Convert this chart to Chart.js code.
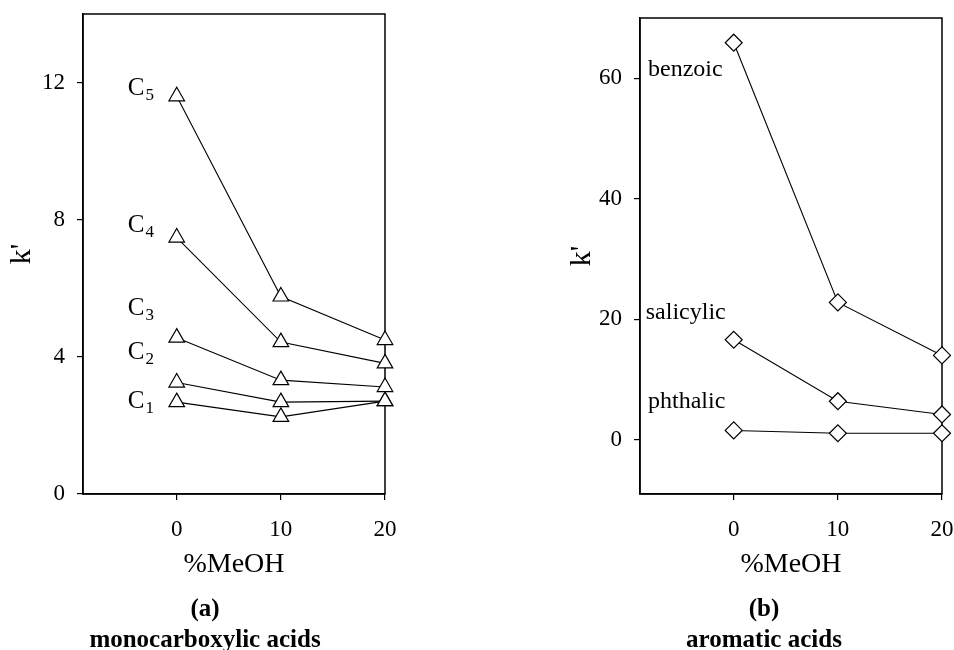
<!DOCTYPE html>
<html>
<head>
<meta charset="utf-8">
<script src="https://cdn.jsdelivr.net/npm/chart.js@4"></script>
<style>
body { margin: 0; background: #fff; }
#wrap { position: relative; width: 954px; height: 650px; overflow: hidden; }
#chartA { position: absolute; left: 0; top: 0; }
#chartB { position: absolute; left: 477px; top: 0; }
.cap { position: absolute; width: 300px; text-align: center; font-family: 'Liberation Serif', serif;
       font-weight: bold; font-size: 25px; line-height: 30px; color: #000; }
</style>
</head>
<body>
<div id="wrap">
  <canvas id="chartA" width="477" height="650"></canvas>
  <canvas id="chartB" width="477" height="650"></canvas>
  <div class="cap" style="left:55px;top:593px">(a)</div>
  <div class="cap" style="left:55px;top:624px">monocarboxylic acids</div>
  <div class="cap" style="left:614px;top:593px">(b)</div>
  <div class="cap" style="left:614px;top:624px">aromatic acids</div>
</div>
<script>
// %MeOH in mobile phase
const meoh = [0, 10, 20];
const xTicks = [0, 10, 20];

// (a) monocarboxylic acids
const acidNames = ['C1', 'C2', 'C3', 'C4', 'C5'];
const c1 = [2.68, 2.25, 2.71];
const c2 = [3.25, 2.68, 2.71];
const c3 = [4.56, 3.32, 3.12];
const c4 = [7.48, 4.43, 3.81];
const c5 = [11.6, 5.76, 4.49];
const yTicksA = [0, 4, 8, 12];

// (b) aromatic acids
const aromNames = ['benzoic', 'salicylic', 'phthalic'];
const benzoic = [65.9, 22.8, 14.0];
const salicylic = [16.6, 6.4, 4.2];
const phthalic = [1.55, 1.08, 1.08];
const yTicksB = [0, 20, 40, 60];

const serif = "'Liberation Serif', 'Times New Roman', serif";

function pts(vals) {
  return meoh.map((x, i) => ({ x: x, y: vals[i] }));
}

function ds(vals, style, r) {
  return {
    data: pts(vals),
    borderColor: '#000',
    borderWidth: 1.1,
    pointStyle: style,
    pointRadius: r,
    pointHoverRadius: r,
    pointBackgroundColor: '#fff',
    pointBorderColor: '#000',
    pointBorderWidth: 1.2,
    clip: false,
    tension: 0
  };
}

// box round the plot area
const frame = {
  id: 'frame',
  beforeDatasetsDraw(chart) {
    const { ctx, chartArea: a } = chart;
    ctx.save();
    ctx.strokeStyle = '#000';
    ctx.lineWidth = 1.5;
    ctx.strokeRect(a.left, a.top, a.right - a.left, a.bottom - a.top);
    ctx.restore();
  }
};

// series names written next to the curves (positions in data units)
const seriesLabels = {
  id: 'seriesLabels',
  afterDatasetsDraw(chart, args, opts) {
    const { ctx, scales: { x, y } } = chart;
    ctx.save();
    ctx.fillStyle = '#000';
    ctx.textAlign = 'left';
    ctx.textBaseline = 'alphabetic';
    opts.items.forEach(it => {
      const px = x.getPixelForValue(it.x);
      const py = y.getPixelForValue(it.y);
      ctx.font = opts.font;
      ctx.fillText(it.text, px, py);
      if (it.sub) {
        const w = ctx.measureText(it.text).width;
        ctx.font = opts.subFont;
        ctx.fillText(it.sub, px + w + 1, py + 5);
      }
    });
    ctx.restore();
  }
};

function makeScales(yMin, yMax, yTicks, yWidth, titlePad) {
  return {
    x: {
      type: 'linear',
      min: -9,
      max: 20,
      afterBuildTicks: s => { s.ticks = xTicks.map(v => ({ value: v })); },
      afterFit: s => { s.height = 156; s.paddingLeft = 0; s.paddingRight = 0; },
      grid: { drawOnChartArea: false, drawTicks: true, tickLength: 6, color: '#000', lineWidth: 1.2 },
      border: { display: true, color: '#000', width: 1.5 },
      ticks: { color: '#000', font: { family: serif, size: 23 }, padding: 16, maxRotation: 0, autoSkip: false },
      title: { display: true, text: '%MeOH', color: '#000', font: { family: serif, size: 28 }, padding: { top: 0, bottom: 69 } }
    },
    y: {
      type: 'linear',
      min: yMin,
      max: yMax,
      afterBuildTicks: s => { s.ticks = yTicks.map(v => ({ value: v })); },
      afterFit: s => { s.width = yWidth; s.paddingTop = 0; s.paddingBottom = 0; },
      grid: { drawOnChartArea: false, drawTicks: true, tickLength: 6, color: '#000', lineWidth: 1.2 },
      border: { display: true, color: '#000', width: 1.5 },
      ticks: { color: '#000', font: { family: serif, size: 23 }, padding: 12, autoSkip: false },
      title: { display: true, text: "k'", color: '#000', font: { family: serif, size: 30 }, padding: { top: titlePad, bottom: 0 } }
    }
  };
}

const labelYA = [2.5, 3.93, 5.22, 7.65, 11.64];
new Chart(document.getElementById('chartA'), {
  type: 'line',
  data: {
    datasets: [c1, c2, c3, c4, c5].map(v => ds(v, 'triangle', 9))
  },
  options: {
    responsive: false,
    animation: false,
    layout: { padding: { top: 14, right: 92, bottom: 0, left: 0 } },
    plugins: {
      legend: { display: false },
      tooltip: { enabled: false },
      seriesLabels: {
        font: '25px ' + serif,
        subFont: '17px ' + serif,
        items: acidNames.map((n, i) => ({ text: n[0], sub: n.slice(1), x: -4.7, y: labelYA[i] }))
      }
    },
    scales: makeScales(0, 14, yTicksA, 83, 4)
  },
  plugins: [frame, seriesLabels]
});

const labelXB = [-8.23, -8.45, -8.23];
const labelYB = [60.4, 20.0, 5.2];
new Chart(document.getElementById('chartB'), {
  type: 'line',
  data: {
    datasets: [benzoic, salicylic, phthalic].map(v => ds(v, 'rectRot', 8.5))
  },
  options: {
    responsive: false,
    animation: false,
    layout: { padding: { top: 18, right: 12, bottom: 0, left: 0 } },
    plugins: {
      legend: { display: false },
      tooltip: { enabled: false },
      seriesLabels: {
        font: '24px ' + serif,
        subFont: '17px ' + serif,
        items: aromNames.map((n, i) => ({ text: n, x: labelXB[i], y: labelYB[i] }))
      }
    },
    scales: makeScales(-9, 70, yTicksB, 163, 87)
  },
  plugins: [frame, seriesLabels]
});
</script>
</body>
</html>
